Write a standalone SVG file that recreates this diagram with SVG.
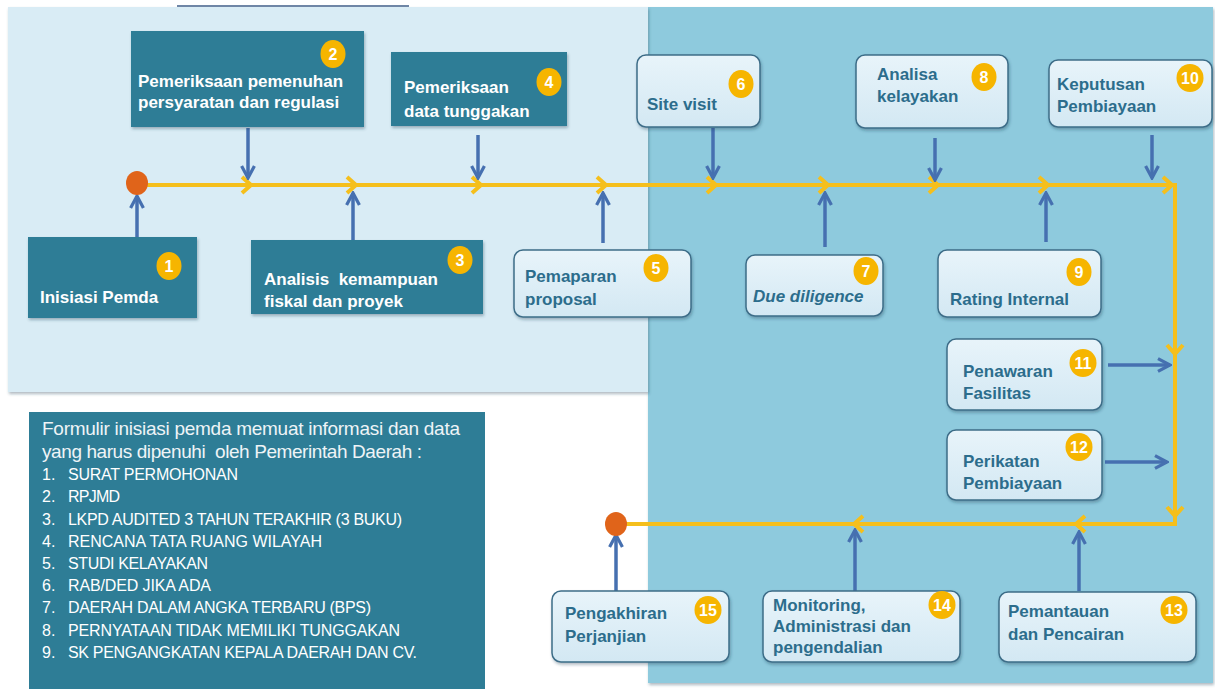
<svg xmlns="http://www.w3.org/2000/svg" width="1215" height="689" viewBox="0 0 1215 689">
<defs>
<style>
.dark{fill:#2e7d96}
.light{fill:url(#lg);stroke:#3d6d88;stroke-width:1.5}
.wt{font-family:"Liberation Sans",Arial,sans-serif;font-weight:bold;font-size:17px;fill:#ffffff}
.bt{font-family:"Liberation Sans",Arial,sans-serif;font-weight:bold;font-size:17px;fill:#2c6d8c}
.badge{fill:#f6b500}
.bn{font-family:"Liberation Sans",Arial,sans-serif;font-weight:bold;font-size:16px;fill:#ffffff;text-anchor:middle}
.yl{fill:none;stroke:#f5bf1c;stroke-width:4}
.ych{fill:none;stroke:#f5bf1c;stroke-width:4;stroke-linejoin:miter}
.ba{fill:none;stroke:#4670b0;stroke-width:3.5;marker-end:url(#ah)}
.dot{fill:#e0641a}
.hd{font-family:"Liberation Sans",Arial,sans-serif;font-size:19px;fill:#eef4f7;white-space:pre}
.li{font-family:"Liberation Sans",Arial,sans-serif;font-size:16px;fill:#ffffff}
.pre{white-space:pre}
</style>
<linearGradient id="lg" x1="0" y1="0" x2="0" y2="1">
<stop offset="0" stop-color="#e8f4fa"/>
<stop offset="1" stop-color="#d3e8f3"/>
</linearGradient>
<filter id="sh" x="-10%" y="-10%" width="130%" height="140%">
<feDropShadow dx="1" dy="2" stdDeviation="1.5" flood-color="#1c3c50" flood-opacity="0.35"/>
</filter>
<marker id="ah" viewBox="0 0 10 10" refX="9" refY="5" markerWidth="16" markerHeight="16" markerUnits="userSpaceOnUse" orient="auto">
<path d="M1.5,1 L9,5 L1.5,9" fill="none" stroke="#4670b0" stroke-width="2"/>
</marker>
</defs>
<rect width="1215" height="689" fill="#ffffff"/>
<g id="background">
<rect x="648" y="7" width="565" height="676" fill="#8ecadd" filter="url(#sh)"/>
<rect x="8" y="7" width="640" height="385" fill="#d9ecf5" filter="url(#sh)"/>
<line x1="177" y1="6" x2="409" y2="6" stroke="#6f86a6" stroke-width="2"/>
</g>
<g id="connectors">
<path class="yl" d="M137,185 H1175 V524 H616"/>
<path class="ych" d="M242,177 L251,185 L242,193"/>
<path class="ych" d="M347,177 L356,185 L347,193"/>
<path class="ych" d="M472,177 L481,185 L472,193"/>
<path class="ych" d="M597,177 L606,185 L597,193"/>
<path class="ych" d="M707,177 L716,185 L707,193"/>
<path class="ych" d="M819,177 L828,185 L819,193"/>
<path class="ych" d="M929,177 L938,185 L929,193"/>
<path class="ych" d="M1039,177 L1048,185 L1039,193"/>
<path class="ych" d="M1163,177 L1172,185 L1163,193"/>
<path class="ych" d="M1167,345 L1175,354 L1183,345"/>
<path class="ych" d="M1167,507 L1175,516 L1183,507"/>
<path class="ych" d="M863,516 L854,524 L863,532"/>
<path class="ych" d="M1085,516 L1076,524 L1085,532"/>
<line class="ba" x1="137" y1="237" x2="137" y2="196"/>
<line class="ba" x1="248" y1="128" x2="248" y2="178"/>
<line class="ba" x1="353" y1="240" x2="353" y2="193"/>
<line class="ba" x1="478" y1="135" x2="478" y2="178"/>
<line class="ba" x1="603" y1="243" x2="603" y2="193"/>
<line class="ba" x1="713" y1="128" x2="713" y2="178"/>
<line class="ba" x1="825" y1="247" x2="825" y2="193"/>
<line class="ba" x1="935" y1="138" x2="935" y2="180"/>
<line class="ba" x1="1046" y1="242" x2="1046" y2="193"/>
<line class="ba" x1="1152" y1="135" x2="1152" y2="178"/>
<line class="ba" x1="1108" y1="365" x2="1170" y2="365"/>
<line class="ba" x1="1105" y1="462" x2="1167" y2="462"/>
<line class="ba" x1="1079" y1="591" x2="1079" y2="532"/>
<line class="ba" x1="855" y1="591" x2="855" y2="530"/>
<line class="ba" x1="616" y1="591" x2="616" y2="535"/>
</g>
<g id="start-dot"><ellipse class="dot" cx="137" cy="183" rx="11" ry="12"/></g>
<g id="end-dot"><ellipse class="dot" cx="616" cy="524" rx="11" ry="12"/></g>
<g id="n1">
<rect class="dark" x="28" y="237" width="169" height="81" filter="url(#sh)"/>
<ellipse class="badge" cx="169" cy="266" rx="12.5" ry="14"/><text class="bn" x="169" y="272">1</text>
<text class="wt" x="40" y="303" font-size="18">Inisiasi Pemda</text>
</g>
<g id="n2">
<rect class="dark" x="131" y="31" width="233" height="96" filter="url(#sh)"/>
<ellipse class="badge" cx="333" cy="54" rx="12.5" ry="14"/><text class="bn" x="333" y="60">2</text>
<text class="wt" x="138" y="87">Pemeriksaan pemenuhan</text>
<text class="wt" x="138" y="108">persyaratan dan regulasi</text>
</g>
<g id="n3">
<rect class="dark" x="251" y="240" width="232" height="74" filter="url(#sh)"/>
<ellipse class="badge" cx="460" cy="260" rx="12.5" ry="14"/><text class="bn" x="460" y="266">3</text>
<text class="wt pre" x="264" y="285" font-size="18">Analisis  kemampuan</text>
<text class="wt" x="264" y="307" font-size="18">fiskal dan proyek</text>
</g>
<g id="n4">
<rect class="dark" x="391" y="52" width="176" height="74" filter="url(#sh)"/>
<ellipse class="badge" cx="549" cy="82" rx="12.5" ry="14"/><text class="bn" x="549" y="88">4</text>
<text class="wt" x="404" y="93" font-size="18">Pemeriksaan</text>
<text class="wt" x="404" y="117" font-size="18">data tunggakan</text>
</g>
<g id="n5">
<rect class="light" x="514" y="250" width="177" height="67" rx="9" filter="url(#sh)"/>
<ellipse class="badge" cx="656" cy="268" rx="12.5" ry="14"/><text class="bn" x="656" y="274">5</text>
<text class="bt" x="525" y="282">Pemaparan</text>
<text class="bt" x="525" y="305">proposal</text>
</g>
<g id="n6">
<rect class="light" x="637" y="55" width="123" height="72" rx="9" filter="url(#sh)"/>
<ellipse class="badge" cx="741" cy="84" rx="12.5" ry="14"/><text class="bn" x="741" y="90">6</text>
<text class="bt" x="647" y="110">Site visit</text>
</g>
<g id="n7">
<rect class="light" x="746" y="255" width="137" height="61" rx="9" filter="url(#sh)"/>
<ellipse class="badge" cx="866" cy="271" rx="12.5" ry="14"/><text class="bn" x="866" y="277">7</text>
<text class="bt" x="753" y="302" font-style="italic">Due diligence</text>
</g>
<g id="n8">
<rect class="light" x="856" y="55" width="152" height="73" rx="9" filter="url(#sh)"/>
<ellipse class="badge" cx="984" cy="77" rx="12.5" ry="14"/><text class="bn" x="984" y="83">8</text>
<text class="bt" x="877" y="80">Analisa</text>
<text class="bt" x="877" y="102">kelayakan</text>
</g>
<g id="n9">
<rect class="light" x="938" y="250" width="163" height="67" rx="9" filter="url(#sh)"/>
<ellipse class="badge" cx="1079" cy="272" rx="12.5" ry="14"/><text class="bn" x="1079" y="278">9</text>
<text class="bt" x="950" y="305" font-size="18">Rating Internal</text>
</g>
<g id="n10">
<rect class="light" x="1049" y="60" width="163" height="67" rx="9" filter="url(#sh)"/>
<ellipse class="badge" cx="1190" cy="78" rx="13.5" ry="14"/><text class="bn" x="1190" y="84">10</text>
<text class="bt" x="1057" y="90">Keputusan</text>
<text class="bt" x="1057" y="112">Pembiayaan</text>
</g>
<g id="n11">
<rect class="light" x="947" y="339" width="155" height="71" rx="9" filter="url(#sh)"/>
<ellipse class="badge" cx="1083" cy="363" rx="13.5" ry="14"/><text class="bn" x="1083" y="369">11</text>
<text class="bt" x="963" y="377">Penawaran</text>
<text class="bt" x="963" y="399">Fasilitas</text>
</g>
<g id="n12">
<rect class="light" x="947" y="430" width="155" height="70" rx="9" filter="url(#sh)"/>
<ellipse class="badge" cx="1079" cy="447" rx="13.5" ry="14"/><text class="bn" x="1079" y="453">12</text>
<text class="bt" x="963" y="467">Perikatan</text>
<text class="bt" x="963" y="489">Pembiayaan</text>
</g>
<g id="n13">
<rect class="light" x="999" y="592" width="197" height="70" rx="9" filter="url(#sh)"/>
<ellipse class="badge" cx="1174" cy="610" rx="13.5" ry="14"/><text class="bn" x="1174" y="616">13</text>
<text class="bt" x="1008" y="617">Pemantauan</text>
<text class="bt" x="1008" y="640">dan Pencairan</text>
</g>
<g id="n14">
<rect class="light" x="763" y="591" width="197" height="71" rx="9" filter="url(#sh)"/>
<ellipse class="badge" cx="942" cy="605" rx="13.5" ry="14"/><text class="bn" x="942" y="611">14</text>
<text class="bt" x="773" y="611">Monitoring,</text>
<text class="bt" x="773" y="632">Administrasi dan</text>
<text class="bt" x="773" y="653">pengendalian</text>
</g>
<g id="n15">
<rect class="light" x="552" y="591" width="177" height="71" rx="9" filter="url(#sh)"/>
<ellipse class="badge" cx="708" cy="610" rx="13.5" ry="14"/><text class="bn" x="708" y="616">15</text>
<text class="bt" x="565" y="619">Pengakhiran</text>
<text class="bt" x="565" y="642">Perjanjian</text>
</g>
<g id="info">
<rect class="dark" x="29" y="412" width="456" height="277"/>
<text class="hd" x="42" y="435" textLength="418">Formulir inisiasi pemda memuat informasi dan data</text>
<text class="hd" x="42" y="458" textLength="380">yang harus dipenuhi  oleh Pemerintah Daerah :</text>
<text class="li" x="42" y="480">1.</text><text class="li" x="68" y="480" textLength="170">SURAT PERMOHONAN</text>
<text class="li" x="42" y="502">2.</text><text class="li" x="68" y="502" textLength="52">RPJMD</text>
<text class="li" x="42" y="525">3.</text><text class="li" x="68" y="525" textLength="334">LKPD AUDITED 3 TAHUN TERAKHIR (3 BUKU)</text>
<text class="li" x="42" y="547">4.</text><text class="li" x="68" y="547" textLength="254">RENCANA TATA RUANG WILAYAH</text>
<text class="li" x="42" y="569">5.</text><text class="li" x="68" y="569" textLength="140">STUDI KELAYAKAN</text>
<text class="li" x="42" y="591">6.</text><text class="li" x="68" y="591" textLength="143">RAB/DED JIKA ADA</text>
<text class="li" x="42" y="613">7.</text><text class="li" x="68" y="613" textLength="303">DAERAH DALAM ANGKA TERBARU (BPS)</text>
<text class="li" x="42" y="636">8.</text><text class="li" x="68" y="636" textLength="332">PERNYATAAN TIDAK MEMILIKI TUNGGAKAN</text>
<text class="li" x="42" y="658">9.</text><text class="li" x="68" y="658" textLength="349">SK PENGANGKATAN KEPALA DAERAH DAN CV.</text>
</g>
</svg>
